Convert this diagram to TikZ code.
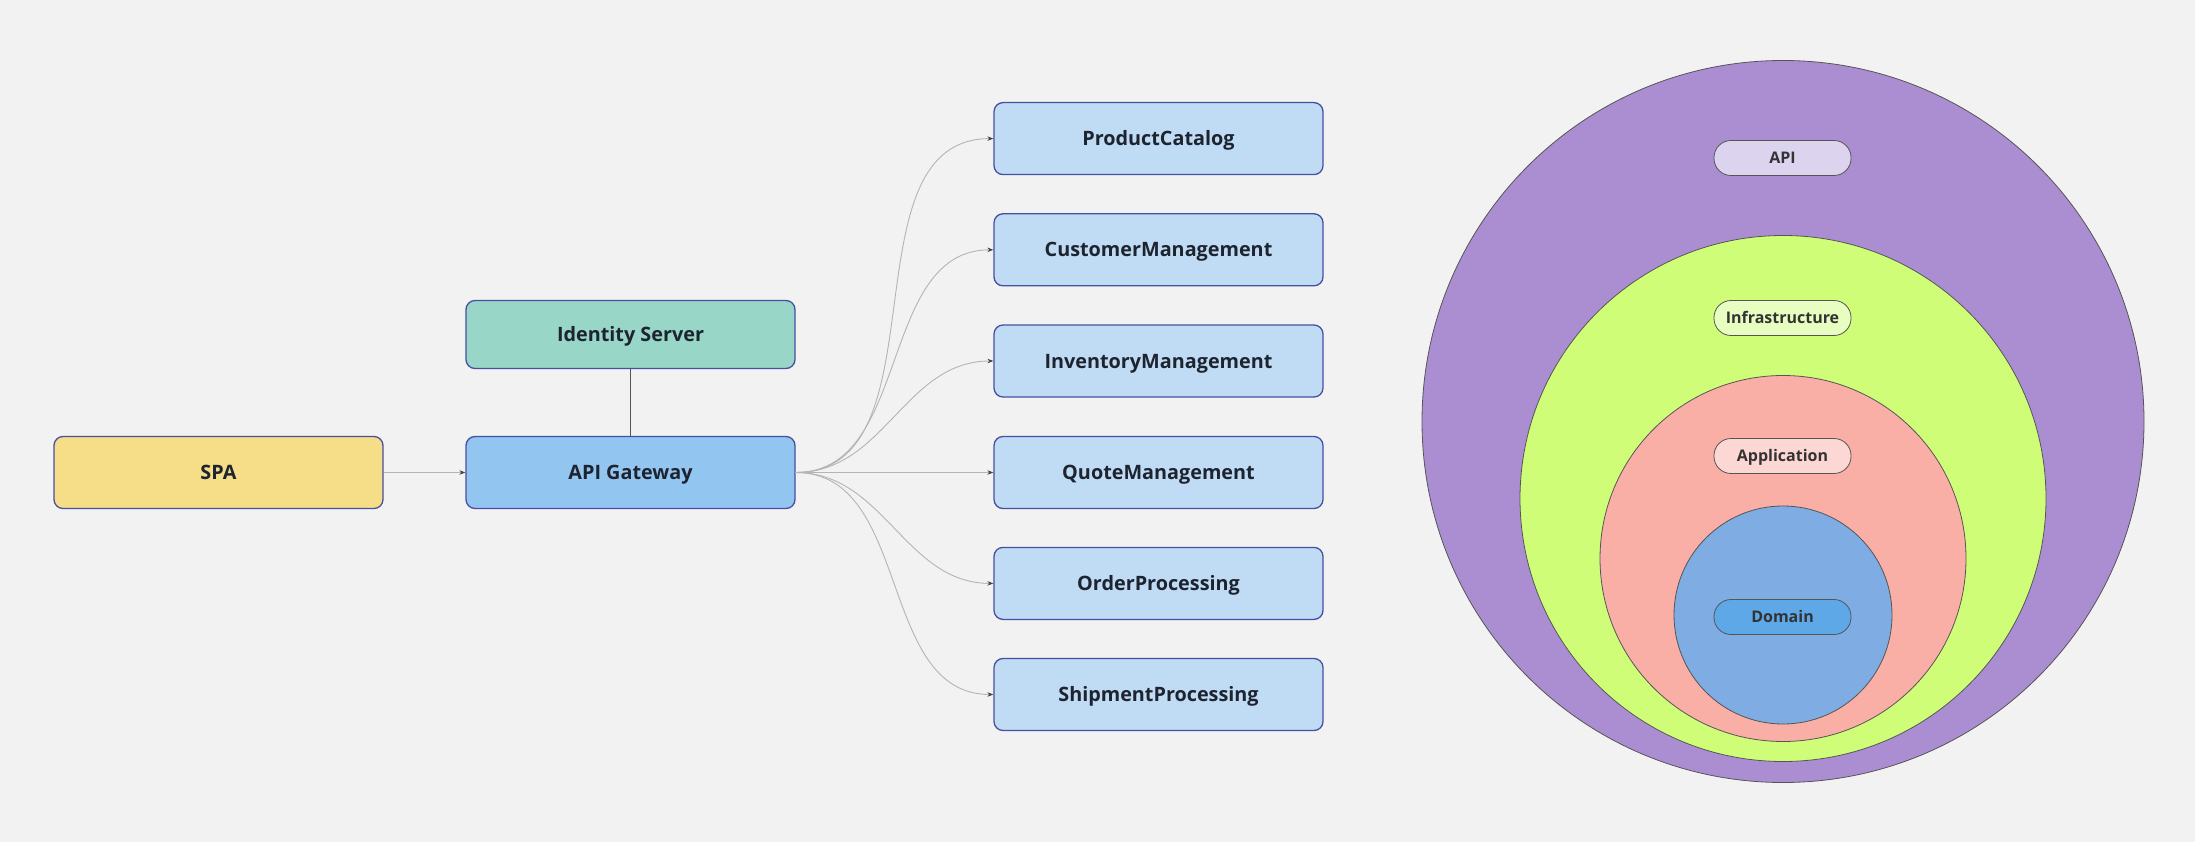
\documentclass[tikz,border=0pt]{standalone}
\usepackage{fontspec}
\setmainfont{Open Sans}
\usetikzlibrary{arrows.meta}
\definecolor{bg}{HTML}{F2F2F2}
\definecolor{boxborder}{HTML}{4650A0}
\definecolor{txt}{HTML}{1E2330}
\definecolor{spafill}{HTML}{F6DD88}
\definecolor{gwfill}{HTML}{93C5F1}
\definecolor{idsfill}{HTML}{98D6C8}
\definecolor{svcfill}{HTML}{BFDCF4}
\definecolor{linegray}{HTML}{B4B4B4}
\definecolor{arrowc}{HTML}{444444}
\definecolor{darkline}{HTML}{555555}
\definecolor{purplefill}{HTML}{AB8ED2}
\definecolor{greenfill}{HTML}{D0FD78}
\definecolor{pinkfill}{HTML}{F9AFA6}
\definecolor{bluefill}{HTML}{7EACE3}
\definecolor{pillapi}{HTML}{DCD3EE}
\definecolor{pillinf}{HTML}{E8FDC0}
\definecolor{pillapp}{HTML}{FCD7D3}
\definecolor{pilldom}{HTML}{5EA8E8}
\definecolor{pilltxt}{HTML}{333333}
\begin{document}
\begin{tikzpicture}[x=1pt,y=-1pt,
  box/.style={draw=boxborder, line width=1.3pt, rounded corners=9pt,
    minimum width=329pt, minimum height=72pt, inner sep=0pt,
    text height=14pt, text depth=0pt,
    font=\fontsize{19.8}{22}\selectfont\bfseries, text=txt},
  svc/.style={box, fill=svcfill},
  layer/.style={circle, draw=darkline, line width=0.8pt, inner sep=0pt},
  pill/.style={draw=darkline, line width=0.8pt, rounded corners=17pt,
    minimum width=137pt, minimum height=35pt, inner sep=0pt,
    text height=11.5pt, text depth=0pt,
    font=\fontsize{16}{18}\selectfont\bfseries, text=pilltxt},
  conn/.style={draw=linegray, line width=0.9pt,
    -{Stealth[length=6pt,width=4.5pt,color=arrowc]}},
  plainline/.style={draw=darkline, line width=0.9pt}
]
\fill[bg] (0,0) rectangle (2195,842);
\useasboundingbox (0,0) rectangle (2195,842);

% left part
\node[box, fill=spafill] (spa) at (218.5,472.5) {SPA};
\node[box, fill=gwfill] (gw) at (630.5,472.5) {API Gateway};
\node[box, fill=idsfill, minimum height=68pt] (ids) at (630.5,334.5) {Identity Server};

\node[svc] (pc) at (1158.5,138.6) {ProductCatalog};
\node[svc] (cm) at (1158.5,249.8) {CustomerManagement};
\node[svc] (im) at (1158.5,361.0) {InventoryManagement};
\node[svc] (qm) at (1158.5,472.5) {QuoteManagement};
\node[svc] (op) at (1158.5,583.4) {OrderProcessing};
\node[svc] (sp) at (1158.5,694.5) {ShipmentProcessing};

\draw[conn] (spa.east) -- (gw.west);
\draw[plainline] (ids.south) -- (gw.north);
\foreach \s in {pc,cm,im,op,sp}
  \draw[conn] (gw.east) to[out=0,in=180] (\s.west);
\draw[conn] (gw.east) -- (qm.west);

% onion layers
\node[layer, fill=purplefill, minimum size=722pt] (lapi) at (1783,421.5) {};
\node[layer, fill=greenfill, minimum size=526pt] (linf) at (1783,498.5) {};
\node[layer, fill=pinkfill, minimum size=366pt] (lapp) at (1783,558.5) {};
\node[layer, fill=bluefill, minimum size=218pt] (ldom) at (1783,615) {};

\node[pill, fill=pillapi] (papi) at (1782.5,158) {API};
\node[pill, fill=pillinf] (pinf) at (1782.5,318) {Infrastructure};
\node[pill, fill=pillapp] (papp) at (1782.5,456) {Application};
\node[pill, fill=pilldom] (pdom) at (1782.5,617) {Domain};
\end{tikzpicture}
\end{document}
